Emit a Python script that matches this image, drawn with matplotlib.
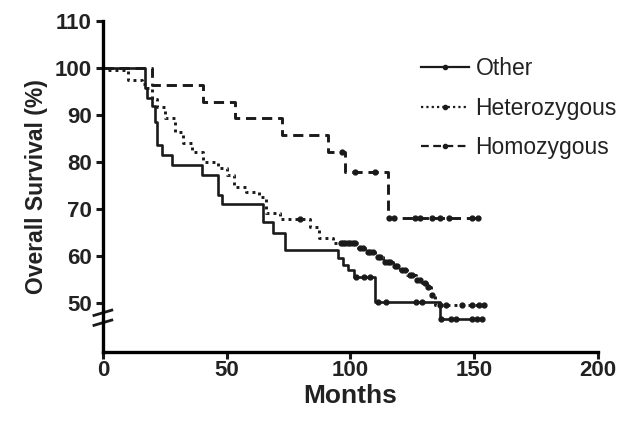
import numpy as np
import matplotlib
matplotlib.use('Agg')
import matplotlib.pyplot as plt

plt.rcParams['font.family'] = ['Liberation Sans', 'DejaVu Sans']

# step curves (time in months, survival in %)
other_t = [0, 17, 18, 20, 21, 22, 24, 28, 40, 46.5, 48, 64.7, 68.8, 73.4, 95, 97, 99, 101.6, 110, 136, 153]
other_s = [100, 95.7, 93.6, 92, 88.5, 83.6, 81.5, 79.4, 77.2, 73, 71, 67.2, 64.9, 61.3, 59.6, 58, 57, 55.5, 50.2, 46.5, 46.5]
other_cens = [102.4, 105.6, 108, 111, 114.5, 126.6, 129, 136.7, 140.7, 142.7, 149, 151, 153]

het_t = [0, 2, 10, 16, 17.7, 20, 21.8, 25, 29, 32.3, 35.9, 40.3, 46.4, 50, 53, 58, 63, 66, 71.5, 83.5, 87.5,
         93, 103, 106, 110, 113, 117, 120, 123, 126.5, 129, 131, 132.6, 134, 155]
het_s = [100, 99.5, 97.4, 96.5, 95.7, 93.5, 91.7, 89.4, 86.4, 84, 82.1, 80, 78.7, 77.2, 74.7, 73.7, 72.6, 69.1,
         67.9, 66.2, 63.8, 62.8, 61.6, 60.9, 59.8, 58.7, 57.8, 57, 56, 54.9, 54.2, 53.4, 51.7, 49.6, 49.6]
het_cens = [79.5, 96, 97, 98, 99, 100, 101, 102, 104, 105, 107, 108, 109, 111, 112, 114, 115, 116, 118, 119,
            121, 122, 124, 125, 127, 128, 130, 131.5, 133, 136, 138.7, 145, 149, 152, 154]

hom_t = [0, 20, 40.4, 53.3, 72.4, 91, 97.8, 115, 152]
hom_s = [100, 96.4, 92.8, 89.4, 85.7, 82.1, 77.9, 68.1, 68.1]
hom_cens = [96.5, 102, 110, 115.5, 117.5, 126, 128, 133, 136, 140, 149, 151.5]

labels = ['Other', 'Heterozygous', 'Homozygous']
styles = ['-', (0, (1, 1.4)), (0, (3.5, 2))]
xticks = [0, 50, 100, 150, 200]
yticks = [50, 60, 70, 80, 90, 100, 110]


def surv_at(t, s, times):
    idx = np.searchsorted(t, times, side='right') - 1
    return np.array(s)[idx]


fig = plt.figure(figsize=(6.43, 4.28), dpi=100)
ax = fig.add_axes([0.160, 0.178, 0.770, 0.773])

curves = [(other_t, other_s, other_cens), (het_t, het_s, het_cens), (hom_t, hom_s, hom_cens)]
for (t, s, c), lab, ls in zip(curves, labels, styles):
    lw = 2.1 if ls != '-' else 1.9
    ax.step(t, s, where='post', color='#1a1a1a', lw=lw, ls=ls)
    ax.plot(c, surv_at(t, s, c), 'o', color='#1a1a1a', ms=3.5, ls='none')
    ax.plot([], [], color='#1a1a1a', lw=1.6, ls=ls, marker='o', ms=3, label=lab)

ax.set_xlim(0, 200)
ax.set_ylim(39.6, 110)
ax.set_xticks(xticks)
ax.set_yticks(yticks)
for sp in ['top', 'right']:
    ax.spines[sp].set_visible(False)
for sp in ['left', 'bottom']:
    ax.spines[sp].set_linewidth(2.4)
ax.spines['left'].set_bounds(39.6, 110)
ax.tick_params(width=2.2, length=5, labelsize=16, color='#1a1a1a', pad=3)
ax.tick_params(axis='x', pad=1)
for lab in ax.get_xticklabels() + ax.get_yticklabels():
    lab.set_fontweight('bold')
    lab.set_color('#222222')

ax.set_xlabel('Months', fontsize=19, fontweight='bold', color='#222222', labelpad=2)
ax.set_ylabel('Overall Survival (%)', fontsize=16.5, fontweight='bold', color='#222222', labelpad=5)

# axis break on y
ax.plot([-0.012, 0.012], [0.088, 0.118], transform=ax.transAxes, color='white', lw=6, clip_on=False,
        solid_capstyle='butt')
ax.plot([-0.018, 0.018], [0.110, 0.126], transform=ax.transAxes, color='#1a1a1a', lw=2, clip_on=False)
ax.plot([-0.018, 0.018], [0.080, 0.096], transform=ax.transAxes, color='#1a1a1a', lw=2, clip_on=False)

leg = ax.legend(loc='upper left', bbox_to_anchor=(0.60, 0.952), frameon=False, fontsize=16.5,
                handlelength=2.1, labelspacing=0.72, handletextpad=0.3)
for txt in leg.get_texts():
    txt.set_color('#222222')

fig.savefig('out.png', dpi=100)
